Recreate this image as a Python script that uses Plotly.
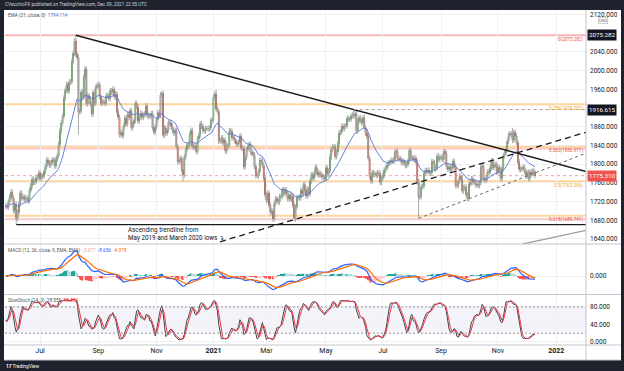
import numpy as np
import pandas as pd
import plotly.graph_objects as go

# ---------------- data (XAU/USD daily closes, by month) ----------------
close_2020_05 = [1710, 1708, 1719, 1730]
close_2020_06 = [1740, 1727, 1700, 1714, 1684, 1697, 1715, 1738, 1728, 1730, 1725, 1727, 1727, 1722, 1744, 1754, 1768, 1761, 1763, 1771, 1772, 1781]
close_2020_07 = [1769, 1775, 1774, 1784, 1795, 1809, 1803, 1798, 1802, 1809, 1808, 1796, 1810, 1818, 1842, 1871, 1888, 1902, 1941, 1958, 1970, 1956, 1975]
close_2020_08 = [1976, 2019, 2037, 2063, 2035, 2028, 1911, 1914, 1954, 1944, 1985, 2003, 1929, 1946, 1940, 1928, 1907, 1953, 1930, 1964, 1968]
close_2020_09 = [1970, 1944, 1930, 1933, 1933, 1930, 1946, 1946, 1940, 1957, 1954, 1960, 1944, 1950, 1912, 1900, 1863, 1868, 1861, 1881, 1898, 1886]
close_2020_10 = [1906, 1900, 1914, 1878, 1887, 1893, 1930, 1922, 1892, 1901, 1908, 1900, 1905, 1907, 1924, 1904, 1902, 1902, 1908, 1878, 1868, 1879]
close_2020_11 = [1895, 1910, 1904, 1948, 1951, 1862, 1877, 1866, 1873, 1889, 1888, 1881, 1872, 1866, 1872, 1837, 1805, 1808, 1812, 1788, 1777]
close_2020_12 = [1815, 1831, 1841, 1839, 1863, 1872, 1838, 1836, 1839, 1827, 1854, 1862, 1886, 1881, 1872, 1871, 1876, 1876, 1876, 1877, 1893, 1895]
close_2021_01 = [1943, 1950, 1918, 1913, 1849, 1850, 1856, 1845, 1851, 1828, 1839, 1840, 1871, 1870, 1856, 1856, 1850, 1844, 1843, 1847]
close_2021_02 = [1860, 1834, 1834, 1794, 1814, 1831, 1838, 1842, 1826, 1823, 1820, 1795, 1775, 1775, 1784, 1808, 1807, 1797, 1770, 1734]
close_2021_03 = [1723, 1738, 1712, 1697, 1700, 1683, 1716, 1726, 1722, 1719, 1731, 1731, 1745, 1737, 1745, 1738, 1726, 1734, 1725, 1732, 1712, 1685, 1708]
close_2021_04 = [1728, 1729, 1728, 1744, 1737, 1756, 1744, 1732, 1747, 1736, 1764, 1777, 1770, 1779, 1793, 1783, 1777, 1780, 1777, 1773, 1772, 1768]
close_2021_05 = [1792, 1779, 1785, 1815, 1831, 1836, 1837, 1816, 1826, 1844, 1867, 1869, 1881, 1876, 1881, 1882, 1898, 1896, 1896, 1903, 1905]
close_2021_06 = [1903, 1908, 1871, 1891, 1899, 1893, 1888, 1899, 1877, 1866, 1859, 1812, 1774, 1764, 1782, 1778, 1779, 1776, 1781, 1780, 1761, 1770]
close_2021_07 = [1776, 1787, 1791, 1797, 1803, 1803, 1808, 1806, 1808, 1825, 1828, 1812, 1812, 1810, 1803, 1806, 1802, 1797, 1799, 1807, 1829, 1814]
close_2021_08 = [1813, 1810, 1813, 1804, 1763, 1729, 1731, 1752, 1753, 1780, 1786, 1785, 1787, 1781, 1781, 1805, 1803, 1790, 1792, 1817, 1810, 1814]
close_2021_09 = [1815, 1810, 1827, 1823, 1795, 1789, 1794, 1788, 1793, 1806, 1794, 1754, 1754, 1764, 1774, 1768, 1743, 1750, 1751, 1734, 1726, 1757]
close_2021_10 = [1761, 1769, 1761, 1762, 1756, 1757, 1754, 1760, 1794, 1796, 1768, 1765, 1769, 1783, 1782, 1792, 1807, 1793, 1798, 1799, 1783]
close_2021_11 = [1793, 1788, 1769, 1791, 1818, 1824, 1832, 1849, 1862, 1865, 1863, 1851, 1868, 1860, 1846, 1805, 1789, 1789, 1791, 1793, 1785, 1775]
close_2021_12 = [1782, 1769, 1783, 1779, 1785, 1783, 1775.31]

start_date = "2020-05-26"
holidays = ["2020-12-25", "2021-01-01", "2021-12-24"]
wick = 6.0
extreme_lows = {"2020-06-05": 1671, "2020-08-11": 1863, "2020-11-30": 1764, "2021-03-08": 1677,
                "2021-03-31": 1677, "2021-08-09": 1684, "2021-09-29": 1721}
extreme_highs = {"2020-08-07": 2075.28, "2021-01-06": 1959, "2021-06-01": 1916.6, "2021-11-16": 1877}

month_ticks = ["2020-07-01", "2020-09-01", "2020-11-01", "2021-01-01", "2021-03-01", "2021-05-01",
               "2021-07-01", "2021-09-01", "2021-11-01", "2022-01-01"]
month_labels = ["Jul", "Sep", "Nov", "<b>2021</b>", "Mar", "May", "Jul", "Sep", "Nov", "<b>2022</b>"]
price_ticks = [1640, 1680, 1720, 1760, 1800, 1840, 1880, 1960, 2000, 2040, 2120]
stoch_ticks = [0, 40, 80]

fib_high = 2075.282
fib_low = 1451.43
fib_ratios = [0, 0.236, 0.382, 0.5, 0.618]
pink_levels = [1832.6, 1682.7]
june_high = ("2021-06-01", 1916.615)
last_price = 1775.310
trend_desc = [("2020-08-07", 2075.282), ("2021-06-01", 1916.615)]
trend_asc = [("2021-01-11", 1634.0), ("2021-12-09", 1835.5)]
trend_dot = [("2021-08-09", 1684.0), ("2021-12-09", 1781.0)]
trend_gray = [("2021-11-25", 1628.8), ("2021-12-09", 1634.9)]
support_low = ("2020-06-05", 1670.7)

header_text = "CVecchioFX published on TradingView.com, Dec 09, 2021 22:55 UTC"
ema_label_value = "1794.114"
macd_label_values = ["-3.677", "-8.656", "-4.978"]
stoch_label_values = ["18.559", "18.054"]
note_text = "Ascending trendline from<br>May 2019 and March 2020 lows ↴"

# ---------------- build series ----------------
months = [close_2020_05, close_2020_06, close_2020_07, close_2020_08, close_2020_09, close_2020_10,
          close_2020_11, close_2020_12, close_2021_01, close_2021_02, close_2021_03, close_2021_04,
          close_2021_05, close_2021_06, close_2021_07, close_2021_08, close_2021_09, close_2021_10,
          close_2021_11, close_2021_12]
closes = np.array(sum(months, []), dtype=float)
n = len(closes)
all_dates = pd.bdate_range(start_date, "2022-02-28", freq="C", holidays=holidays)


def di(d):
    return int(np.searchsorted(all_dates.values, np.datetime64(pd.Timestamp(d))))


x = np.arange(n)
opens = np.r_[closes[0], closes[:-1]]
highs = np.maximum(opens, closes) + wick
lows = np.minimum(opens, closes) - wick
for d, v in extreme_lows.items():
    lows[di(d)] = v
for d, v in extreme_highs.items():
    highs[di(d)] = v

cs = pd.Series(closes)
ema21 = cs.ewm(span=21, adjust=False).mean()
macd = cs.ewm(span=12, adjust=False).mean() - cs.ewm(span=26, adjust=False).mean()
signal = macd.ewm(span=9, adjust=False).mean()
hist = macd - signal
hh = pd.Series(highs).rolling(14, min_periods=1).max()
ll = pd.Series(lows).rolling(14, min_periods=1).min()
fastk = 100 * (cs - ll) / (hh - ll)
k = fastk.rolling(3, min_periods=1).mean()
dline = k.rolling(3, min_periods=1).mean()

hist_colors = []
for i in range(n):
    prev = hist[i - 1] if i > 0 else hist[i]
    if hist[i] >= 0:
        hist_colors.append("#26a69a" if hist[i] >= prev else "#b2dfdb")
    else:
        hist_colors.append("#ffcdd2" if hist[i] >= prev else "#ff5252")

# ---------------- layout geometry (pixels) ----------------
W, H = 624, 371
def px(xp): return xp / W
def py(yp): return 1 - yp / H

XR = [-0.5, 438.5]
XD = [px(5), px(586)]
PRICE_D = [py(244), py(11)]
MACD_D = [py(294), py(244)]
STOCH_D = [py(345), py(295)]
PR = [1629.3, 2127.2]
SR = [-6.9, 107.4]
mscale = macd.max() / (276 - 251)
MR = [-(294 - 276) * mscale, (276 - 244) * mscale]

UP, DN, WICK = "#388e3c", "#b0301f", "#a9a9a9"
GRID = "#eef0f4"
TXT = "#131722"
DARK = "#1e222d"
FONT = "Roboto"

fig = go.Figure()

# wicks
wx, wy = [], []
for i in range(n):
    wx += [i, i, None]
    wy += [lows[i], highs[i], None]
fig.add_trace(go.Scatter(x=wx, y=wy, mode="lines", line=dict(color=WICK, width=1),
                         hoverinfo="skip", xaxis="x", yaxis="y"))
fig.add_trace(go.Candlestick(x=x, open=opens, close=closes,
                             high=np.maximum(opens, closes), low=np.minimum(opens, closes),
                             increasing=dict(line=dict(color=UP, width=1), fillcolor=UP),
                             decreasing=dict(line=dict(color=DN, width=1), fillcolor=DN),
                             whiskerwidth=0, xaxis="x", yaxis="y"))
fig.add_trace(go.Scatter(x=x, y=ema21, mode="lines", line=dict(color="#5676d8", width=0.9),
                         xaxis="x", yaxis="y"))


def ray(pts):
    (d1, p1), (d2, p2) = pts
    i1, i2 = di(d1), di(d2)
    s = (p2 - p1) / (i2 - i1)
    return [i1, XR[1]], [p1, p1 + s * (XR[1] - i1)]


for pts, st in [(trend_desc, dict(color="#1a1a1a", width=1.5)),
                (trend_asc, dict(color="#1a1a1a", width=1.3, dash="6px,4px")),
                (trend_dot, dict(color="#666666", width=1, dash="dot")),
                (trend_gray, dict(color="#9e9e9e", width=1.3))]:
    rx, ry = ray(pts)
    fig.add_trace(go.Scatter(x=rx, y=ry, mode="lines", line=st, xaxis="x", yaxis="y"))
fig.add_trace(go.Scatter(x=[di(support_low[0]), XR[1]], y=[support_low[1]] * 2, mode="lines",
                         line=dict(color="#1a1a1a", width=1.3), xaxis="x", yaxis="y"))

# MACD
fig.add_trace(go.Bar(x=x, y=hist, marker=dict(color=hist_colors, line=dict(width=0)), width=0.8,
                     xaxis="x2", yaxis="y2"))
fig.add_trace(go.Scatter(x=x, y=macd, mode="lines", line=dict(color="#2962ff", width=1.2),
                         xaxis="x2", yaxis="y2"))
fig.add_trace(go.Scatter(x=x, y=signal, mode="lines", line=dict(color="#ff6d00", width=1.2),
                         xaxis="x2", yaxis="y2"))
# Stoch
fig.add_trace(go.Scatter(x=x, y=k, mode="lines", line=dict(color="#444444", width=1),
                         xaxis="x3", yaxis="y3"))
fig.add_trace(go.Scatter(x=x, y=dline, mode="lines", line=dict(color="#f23645", width=1),
                         xaxis="x3", yaxis="y3"))

shapes = []
# white frame
shapes.append(dict(type="rect", xref="paper", yref="paper", x0=px(4), x1=px(621), y0=py(360), y1=py(10),
                   fillcolor="white", line=dict(width=0), layer="below"))
# fib levels
for r in fib_ratios:
    lvl = fib_high - r * (fib_high - fib_low)
    col = "rgba(239,83,80,0.42)" if r == 0 else "rgba(255,160,30,0.45)"
    shapes.append(dict(type="line", xref="x", yref="y", x0=XR[0], x1=XR[1], y0=lvl, y1=lvl,
                       line=dict(color=col, width=2), layer="below"))
for lvl in pink_levels:
    shapes.append(dict(type="line", xref="x", yref="y", x0=XR[0], x1=XR[1], y0=lvl, y1=lvl,
                       line=dict(color="rgba(239,83,80,0.28)", width=2), layer="below"))
shapes.append(dict(type="line", xref="x", yref="y", x0=di(june_high[0]), x1=XR[1], y0=june_high[1],
                   y1=june_high[1], line=dict(color="#9e9e9e", width=1, dash="3px,3px")))
shapes.append(dict(type="line", xref="x", yref="y", x0=XR[0], x1=XR[1], y0=last_price, y1=last_price,
                   line=dict(color="rgba(239,83,80,0.55)", width=1, dash="dot"), layer="below"))
# stoch band
shapes.append(dict(type="rect", xref="x3", yref="y3", x0=XR[0], x1=XR[1], y0=20, y1=80,
                   fillcolor="rgba(149,117,205,0.09)", line=dict(width=0), layer="below"))
for lv in (20, 80):
    shapes.append(dict(type="line", xref="x3", yref="y3", x0=XR[0], x1=XR[1], y0=lv, y1=lv,
                       line=dict(color="#9598a1", width=1, dash="2px,2px")))
# separators
for yp in (244, 294.5, 345, 360):
    shapes.append(dict(type="line", xref="paper", yref="paper", x0=px(4), x1=px(621), y0=py(yp), y1=py(yp),
                       line=dict(color="#c3c6ce", width=1), layer="above"))
shapes.append(dict(type="line", xref="paper", yref="paper", x0=px(586), x1=px(586), y0=py(360), y1=py(10),
                   line=dict(color="#c3c6ce", width=1), layer="above"))
# header bar
shapes.append(dict(type="rect", xref="paper", yref="paper", x0=0, x1=1, y0=py(10), y1=1,
                   fillcolor=DARK, line=dict(width=0), layer="above"))

ann = []
ann.append(dict(x=px(3), y=py(4.5), xref="paper", yref="paper", text=header_text, showarrow=False,
                xanchor="left", yanchor="middle", font=dict(size=4.7, color="#d1d4dc", family=FONT)))
ann.append(dict(x=px(6), y=py(16), xref="paper", yref="paper",
                text="EMA (21, close, 0)  <span style='color:#4f6fd6'>" + ema_label_value + "</span>",
                showarrow=False, xanchor="left", yanchor="middle", font=dict(size=4.7, color="#50535e", family=FONT)))
ann.append(dict(x=px(6), y=py(250), xref="paper", yref="paper",
                text="MACD (12, 26, close, 9, EMA, EMA)  <span style='color:#ef9a9a'>" + macd_label_values[0] +
                     "</span>  <span style='color:#2962ff'>" + macd_label_values[1] +
                     "</span>  <span style='color:#ff6d00'>" + macd_label_values[2] + "</span>",
                showarrow=False, xanchor="left", yanchor="middle", font=dict(size=4.7, color="#50535e", family=FONT)))
ann.append(dict(x=px(6), y=py(300), xref="paper", yref="paper",
                text="SlowStoch (14, 3)  <span style='color:#444'>" + stoch_label_values[0] +
                     "</span>  <span style='color:#f23645'>" + stoch_label_values[1] + "</span>",
                showarrow=False, xanchor="left", yanchor="middle", font=dict(size=4.7, color="#50535e", family=FONT)))
# fib labels
for r in fib_ratios:
    lvl = fib_high - r * (fib_high - fib_low)
    col = "#e5534b" if r in (0, 0.382, 0.618) else "#f5a623"
    ann.append(dict(x=px(585), y=lvl, xref="paper", yref="y", text=f"{r:g}({lvl:.3f})", showarrow=False,
                    xanchor="right", yanchor="top", yshift=1.5, font=dict(size=4.6, color=col, family=FONT)))
# price boxes
for val, bg in [(fib_high, "#131722"), (june_high[1], "#131722"), (last_price, "#ef5350")]:
    ann.append(dict(x=px(587), y=val, xref="paper", yref="y", text=f"{val:.3f}", showarrow=False,
                    xanchor="left", yanchor="middle", bgcolor=bg, borderpad=1,
                    font=dict(size=6.2, color="white", family=FONT)))
ann.append(dict(x=px(603), y=py(21), xref="paper", yref="paper", text="USD", showarrow=False,
                xanchor="center", yanchor="middle", bordercolor="#c3c6ce", borderwidth=0.8, borderpad=0.3,
                bgcolor="white", font=dict(size=4.2, color="#50535e", family=FONT)))
ann.append(dict(x=91, y=1650, xref="x", yref="y", text=note_text, showarrow=False, align="left",
                xanchor="left", yanchor="middle", font=dict(size=6.3, color=TXT, family=FONT)))
ann.append(dict(x=px(4), y=py(366), xref="paper", yref="paper", text="<b>17</b> TradingView", showarrow=False,
                xanchor="left", yanchor="middle", font=dict(size=4.8, color="white", family=FONT)))

tickpos = [di(m) for m in month_ticks]
xcommon = dict(range=XR, domain=XD, tickvals=tickpos, showgrid=True, gridcolor=GRID, gridwidth=1,
               zeroline=False, showline=False, ticks="", fixedrange=True)
ycommon = dict(side="right", showgrid=True, gridcolor=GRID, zeroline=False, showline=False, ticks="",
               tickformat=".3f", tickfont=dict(size=6.5, color=TXT, family=FONT), ticklabelstandoff=3,
               fixedrange=True)

fig.update_layout(
    width=W, height=H, margin=dict(l=0, r=0, t=0, b=0), paper_bgcolor=DARK, plot_bgcolor="rgba(0,0,0,0)",
    showlegend=False, shapes=shapes, annotations=ann, font=dict(family=FONT),
    xaxis=dict(xcommon, anchor="y", showticklabels=False, rangeslider=dict(visible=False)),
    xaxis2=dict(xcommon, anchor="y2", showticklabels=False),
    xaxis3=dict(xcommon, anchor="y3", showticklabels=True, ticktext=month_labels,
                tickfont=dict(size=7, color=TXT, family=FONT)),
    yaxis=dict(ycommon, domain=PRICE_D, range=PR, anchor="x", tickvals=price_ticks),
    yaxis2=dict(ycommon, domain=MACD_D, range=MR, anchor="x2", tickvals=[0]),
    yaxis3=dict(ycommon, domain=STOCH_D, range=SR, anchor="x3", tickvals=stoch_ticks),
)

fig.write_html("out.html", config=dict(displayModeBar=False),
               post_script="document.body.style.margin='0';document.body.style.padding='0';"
                           "document.body.style.overflow='hidden';")
